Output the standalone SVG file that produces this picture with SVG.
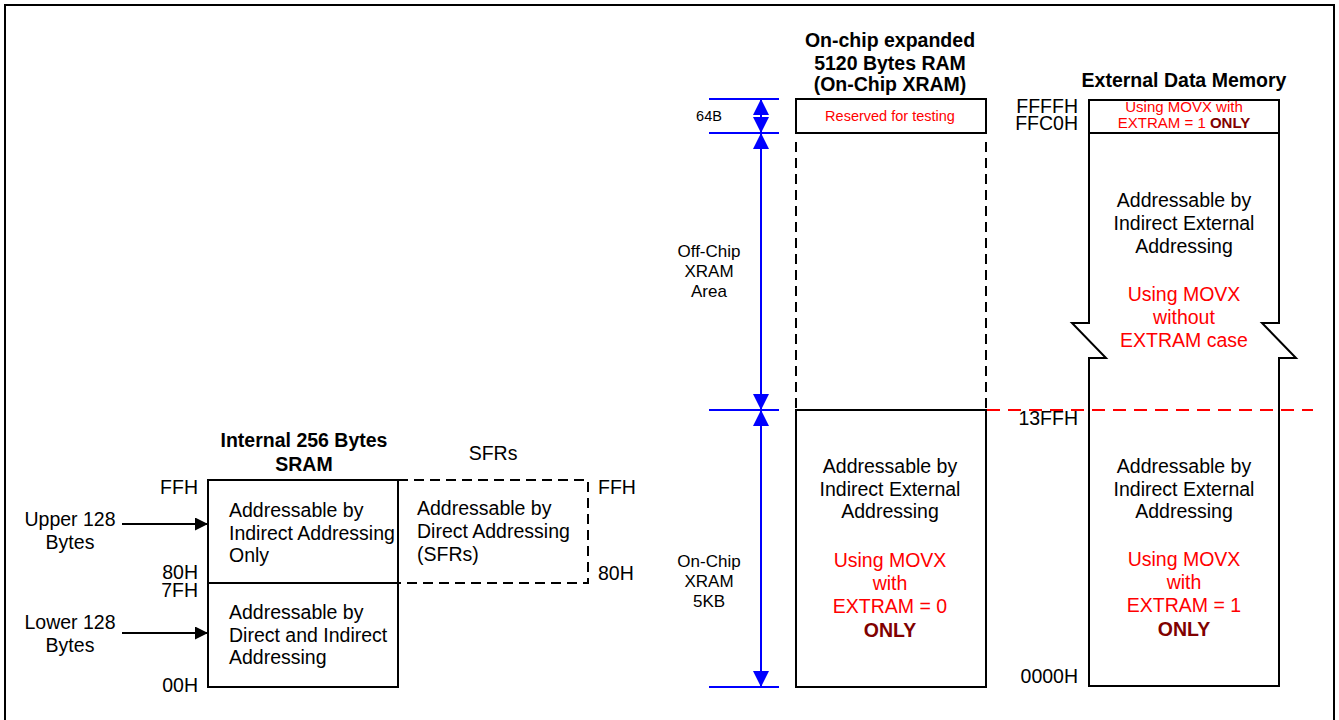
<svg xmlns="http://www.w3.org/2000/svg" width="1339" height="720" viewBox="0 0 1339 720">
<style>
text{font-family:"Liberation Sans",Arial,sans-serif;fill:#000}
.t19{font-size:19.5px}
.t17{font-size:17px}
.t15{font-size:15px}
.t14{font-size:14.5px}
.b{font-weight:bold}
.c{text-anchor:middle}
.r{text-anchor:end}
.red{fill:#FF0000}
.dr{fill:#800000;font-weight:bold}
.box{fill:none;stroke:#000;stroke-width:2}
.dash{fill:none;stroke:#000;stroke-width:2;stroke-dasharray:10 6}
.dim{stroke:#0000FF;stroke-width:2;fill:none}
.arr{stroke:#000;stroke-width:2;fill:none}
</style>
<defs>
<marker id="bluehead" markerUnits="userSpaceOnUse" markerWidth="17" markerHeight="17" refX="16" refY="8" orient="auto-start-reverse">
<path d="M0,0 L16,8 L0,16 z" fill="#0000FF"/>
</marker>
<marker id="blackhead" markerUnits="userSpaceOnUse" markerWidth="14" markerHeight="14" refX="13" refY="6.5" orient="auto">
<path d="M0,0 L13,6.5 L0,13 z" fill="#000"/>
</marker>
</defs>
<rect x="5" y="5" width="1329" height="740" fill="#fff" stroke="#000" stroke-width="2"/>

<g id="sram">
<text class="t19 b c" x="304" y="447">Internal 256 Bytes</text>
<text class="t19 b c" x="304" y="471">SRAM</text>
<rect class="box" x="208" y="480" width="190" height="207"/>
<line class="box" x1="208" y1="583" x2="398" y2="583"/>
<text class="t19" x="229" y="517">Addressable by</text>
<text class="t19" x="229" y="540">Indirect Addressing</text>
<text class="t19" x="229" y="562">Only</text>
<text class="t19" x="229" y="619">Addressable by</text>
<text class="t19" x="229" y="642">Direct and Indirect</text>
<text class="t19" x="229" y="664">Addressing</text>
<text class="t19 r" x="198" y="494">FFH</text>
<text class="t19 r" x="198" y="579">80H</text>
<text class="t19 r" x="198" y="597">7FH</text>
<text class="t19 r" x="198" y="692">00H</text>
</g>

<g id="upper-label">
<text class="t19 c" x="70" y="526">Upper 128</text>
<text class="t19 c" x="70" y="549">Bytes</text>
</g>
<g id="lower-label">
<text class="t19 c" x="70" y="629">Lower 128</text>
<text class="t19 c" x="70" y="652">Bytes</text>
</g>

<g id="sfrs">
<text class="t19 c" x="493" y="460">SFRs</text>
<path class="dash" d="M398,480 H588 V583 H398"/>
<text class="t19" x="417" y="515">Addressable by</text>
<text class="t19" x="417" y="538">Direct Addressing</text>
<text class="t19" x="417" y="561">(SFRs)</text>
<text class="t19" x="598" y="494">FFH</text>
<text class="t19" x="598" y="580">80H</text>
</g>

<g id="onchip-xram">
<text class="t19 b c" x="890" y="47">On-chip expanded</text>
<text class="t19 b c" x="890" y="70">5120 Bytes RAM</text>
<text class="t19 b c" x="890" y="91">(On-Chip XRAM)</text>
<rect class="box" x="796" y="99" width="190" height="34"/>
<text class="t14 c red" x="890" y="121">Reserved for testing</text>
<line class="dash" x1="796" y1="142" x2="796" y2="410"/>
<line class="dash" x1="986" y1="142" x2="986" y2="410"/>
<rect class="box" x="796" y="410" width="190" height="277"/>
<text class="t19 c" x="890" y="473">Addressable by</text>
<text class="t19 c" x="890" y="496">Indirect External</text>
<text class="t19 c" x="890" y="518">Addressing</text>
<text class="t19 c red" x="890" y="567">Using MOVX</text>
<text class="t19 c red" x="890" y="590">with</text>
<text class="t19 c red" x="890" y="613">EXTRAM = 0</text>
<text class="t19 c dr" x="890" y="637">ONLY</text>
</g>

<g id="dimension-labels">
<text class="t14 c" x="709" y="121">64B</text>
<text class="t17 c" x="709" y="257">Off-Chip</text>
<text class="t17 c" x="709" y="277">XRAM</text>
<text class="t17 c" x="709" y="297">Area</text>
<text class="t17 c" x="709" y="567">On-Chip</text>
<text class="t17 c" x="709" y="587">XRAM</text>
<text class="t17 c" x="709" y="607">5KB</text>
</g>

<g id="external-memory">
<text class="t19 b c" x="1184" y="87">External Data Memory</text>
<path class="box" d="M1089,133 V100 H1279 V133"/>
<line class="box" x1="1089" y1="133" x2="1279" y2="133"/>
<path class="box" d="M1089,133 V323 H1072 L1106,358 H1089 V686 H1279 V358 H1296 L1262,323 H1279 V133"/>
<text class="t15 c red" x="1184" y="112">Using MOVX with</text>
<text class="t15 c" x="1184" y="128"><tspan class="red">EXTRAM = 1 </tspan><tspan class="dr">ONLY</tspan></text>
<text class="t19 r" x="1078" y="113">FFFFH</text>
<text class="t19 r" x="1078" y="130">FFC0H</text>
<text class="t19 c" x="1184" y="207">Addressable by</text>
<text class="t19 c" x="1184" y="230">Indirect External</text>
<text class="t19 c" x="1184" y="253">Addressing</text>
<text class="t19 c red" x="1184" y="301">Using MOVX</text>
<text class="t19 c red" x="1184" y="324">without</text>
<text class="t19 c red" x="1184" y="347">EXTRAM case</text>
<text class="t19 r" x="1078" y="425">13FFH</text>
<text class="t19 c" x="1184" y="473">Addressable by</text>
<text class="t19 c" x="1184" y="496">Indirect External</text>
<text class="t19 c" x="1184" y="518">Addressing</text>
<text class="t19 c red" x="1184" y="566">Using MOVX</text>
<text class="t19 c red" x="1184" y="589">with</text>
<text class="t19 c red" x="1184" y="612">EXTRAM = 1</text>
<text class="t19 c dr" x="1184" y="636">ONLY</text>
<text class="t19 r" x="1078" y="683">0000H</text>
</g>

<g id="connectors">
<line class="arr" x1="122" y1="524" x2="208" y2="524" marker-end="url(#blackhead)"/>
<line class="arr" x1="122" y1="633" x2="208" y2="633" marker-end="url(#blackhead)"/>
<line class="dim" x1="709" y1="99" x2="779" y2="99"/>
<line class="dim" x1="709" y1="133" x2="779" y2="133"/>
<line class="dim" x1="709" y1="410" x2="779" y2="410"/>
<line class="dim" x1="709" y1="687" x2="779" y2="687"/>
<line class="dim" x1="761" y1="99" x2="761" y2="133" marker-start="url(#bluehead)" marker-end="url(#bluehead)"/>
<line class="dim" x1="761" y1="133" x2="761" y2="410" marker-start="url(#bluehead)" marker-end="url(#bluehead)"/>
<line class="dim" x1="761" y1="410" x2="761" y2="687" marker-start="url(#bluehead)" marker-end="url(#bluehead)"/>
<line x1="987" y1="410" x2="1313" y2="410" stroke="#FF0000" stroke-width="2" stroke-dasharray="13 8"/>
</g>
</svg>
